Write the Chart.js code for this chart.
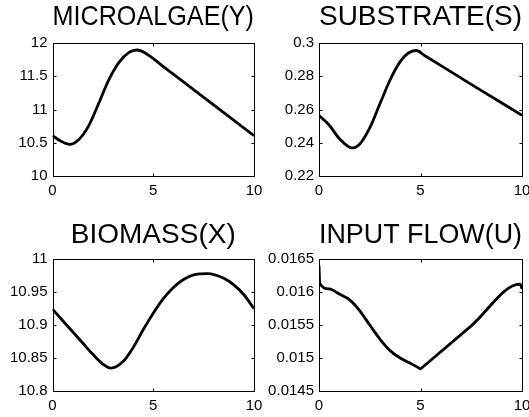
<!DOCTYPE html>
<html>
<head>
<meta charset="utf-8">
<title>Bioreactor states</title>
<script src="https://cdn.jsdelivr.net/npm/chart.js@4.4.1/dist/chart.umd.min.js"></script>
<style>
    html, body { margin: 0; padding: 0; background: #fff; }
    #wrap { position: relative; width: 529px; height: 417px; overflow: hidden; }
    canvas { position: absolute; }
</style>
</head>
<body>
<div id="wrap">
    <canvas id="algaeChart" width="270" height="208" style="left:0;top:0;width:270px;height:208px"></canvas>
    <canvas id="substrateChart" width="271" height="208" style="left:258px;top:0;width:271px;height:208px"></canvas>
    <canvas id="biomassChart" width="270" height="209" style="left:0;top:208px;width:270px;height:209px"></canvas>
    <canvas id="flowChart" width="271" height="209" style="left:258px;top:208px;width:271px;height:209px"></canvas>
</div>
<script>
// values (time 0..10)
const algaeTime = [0, 0.4, 0.85, 1.3, 1.8, 2.3, 2.8, 3.3, 3.8, 4.2, 4.6, 5.5, 7, 8.5, 10];
const algaeValues = [10.61, 10.53, 10.48, 10.55, 10.76, 11.10, 11.45, 11.71, 11.86, 11.895, 11.85, 11.645, 11.30, 10.955, 10.61];

const substrateTime = [0, 0.5, 1, 1.65, 2, 2.5, 3, 3.5, 4, 4.4, 4.8, 5.2, 7.5, 10];
const substrateValues = [0.2565, 0.2508, 0.2427, 0.2370, 0.2392, 0.2490, 0.2635, 0.2778, 0.2888, 0.2940, 0.2955, 0.2925, 0.2752, 0.2566];

const biomassTime = [0, 0.5, 1, 1.5, 2, 2.5, 2.9, 3.5, 4, 4.5, 5, 5.5, 6, 6.5, 7, 7.7, 8.5, 9, 9.5, 10];
const biomassValues = [10.924, 10.907, 10.890, 10.873, 10.856, 10.841, 10.835, 10.845, 10.866, 10.893, 10.918, 10.940, 10.957, 10.969, 10.976, 10.978, 10.971, 10.961, 10.946, 10.925];

const flowTime = [0, 0.04, 0.5, 1, 1.5, 2, 2.5, 3, 3.5, 4, 4.5, 4.9, 5, 5.1, 7.5, 9.9, 10];
const flowValues = [0.01640, 0.01613, 0.016047, 0.015971, 0.015885, 0.01572, 0.015502, 0.01529, 0.015115, 0.015004, 0.014923, 0.014856, 0.014838, 0.014864, 0.01549, 0.01612, 0.01605];

const timeTicks = [0, 5, 10];
const timeTickLabels = ['0', '5', '10'];

const algaeTicks = [10, 10.5, 11, 11.5, 12];
const algaeTickLabels = ['10', '10.5', '11', '11.5', '12'];
const substrateTicks = [0.22, 0.24, 0.26, 0.28, 0.3];
const substrateTickLabels = ['0.22', '0.24', '0.26', '0.28', '0.3'];
const biomassTicks = [10.8, 10.85, 10.9, 10.95, 11];
const biomassTickLabels = ['10.8', '10.85', '10.9', '10.95', '11'];
const flowTicks = [0.0145, 0.015, 0.0155, 0.016, 0.0165];
const flowTickLabels = ['0.0145', '0.015', '0.0155', '0.016', '0.0165'];

const FONT = "'Liberation Sans', Arial, Helvetica, sans-serif";
const TICK_LEN = 3;

// matlab style: full box with inward ticks on every side
const boxPlugin = {
    id: 'matlabBox',
    afterDatasetsDraw(chart) {
        const { ctx, chartArea: a, scales } = chart;
        const l = Math.round(a.left) + 0.5, r = Math.round(a.right) + 0.5;
        const t = Math.round(a.top) + 0.5, b = Math.round(a.bottom) + 0.5;
        ctx.save();
        ctx.strokeStyle = '#000';
        ctx.lineWidth = 1;
        ctx.strokeRect(l, t, r - l, b - t);
        ctx.beginPath();
        scales.x.ticks.forEach(tick => {
            const px = Math.round(scales.x.getPixelForValue(tick.value)) + 0.5;
            ctx.moveTo(px, b); ctx.lineTo(px, b - TICK_LEN);
            ctx.moveTo(px, t); ctx.lineTo(px, t + TICK_LEN);
        });
        scales.y.ticks.forEach(tick => {
            const py = Math.round(scales.y.getPixelForValue(tick.value)) + 0.5;
            ctx.moveTo(l, py); ctx.lineTo(l + TICK_LEN, py);
            ctx.moveTo(r, py); ctx.lineTo(r - TICK_LEN, py);
        });
        ctx.stroke();
        ctx.restore();
    }
};

function makeChart(id, title, time, values, yTicks, yLabels, box) {
    const ctx = document.getElementById(id).getContext('2d');
    return new Chart(ctx, {
        type: 'line',
        data: {
            datasets: [{
                data: time.map((t, i) => ({ x: t, y: values[i] })),
                borderColor: '#000',
                borderWidth: 2.8,
                pointRadius: 0,
                fill: false,
                cubicInterpolationMode: 'monotone'
            }]
        },
        options: {
            responsive: false,
            animation: false,
            devicePixelRatio: 1,
            layout: { padding: { left: 0, right: box.padRight, top: 0, bottom: 0 } },
            plugins: {
                legend: { display: false },
                tooltip: { enabled: false },
                title: {
                    display: true,
                    text: title,
                    color: '#000',
                    fullSize: false,
                    font: { family: FONT, size: 28, weight: 'normal', lineHeight: 1 },
                    padding: { top: box.titleTop, bottom: box.titleBottom }
                }
            },
            scales: {
                x: {
                    type: 'linear',
                    min: timeTicks[0],
                    max: timeTicks[timeTicks.length - 1],
                    grid: { display: false, drawTicks: false },
                    border: { display: false },
                    afterBuildTicks: axis => { axis.ticks = timeTicks.map(v => ({ value: v })); },
                    afterFit: scale => {
                        scale.height = box.xHeight;
                        scale.paddingLeft = 0;
                        scale.paddingRight = 0;
                    },
                    ticks: {
                        color: '#000',
                        font: { family: FONT, size: 15 },
                        padding: 6,
                        maxRotation: 0,
                        autoSkip: false,
                        callback: (v, i) => timeTickLabels[i]
                    }
                },
                y: {
                    type: 'linear',
                    min: yTicks[0],
                    max: yTicks[yTicks.length - 1],
                    grid: { display: false, drawTicks: false },
                    border: { display: false },
                    afterBuildTicks: axis => { axis.ticks = yTicks.map(v => ({ value: v })); },
                    afterFit: scale => {
                        scale.width = box.yWidth;
                        scale.paddingTop = 0;
                        scale.paddingBottom = 0;
                    },
                    ticks: {
                        color: '#000',
                        font: { family: FONT, size: 15 },
                        padding: 5,
                        autoSkip: false,
                        callback: (v, i) => yLabels[i]
                    }
                }
            }
        },
        plugins: [boxPlugin]
    });
}

const topLeft = { yWidth: 52.5, padRight: 16, titleTop: 3, titleBottom: 12, xHeight: 31.7 };
const topRight = { yWidth: 61, padRight: 7, titleTop: 3, titleBottom: 12, xHeight: 31.7 };
const bottomLeft = { yWidth: 52.5, padRight: 16, titleTop: 13, titleBottom: 10, xHeight: 25.7 };
const bottomRight = { yWidth: 61, padRight: 7, titleTop: 13, titleBottom: 10, xHeight: 25.7 };

makeChart('algaeChart', 'MICROALGAE(Y)', algaeTime, algaeValues, algaeTicks, algaeTickLabels, topLeft);
makeChart('substrateChart', 'SUBSTRATE(S)', substrateTime, substrateValues, substrateTicks, substrateTickLabels, topRight);
makeChart('biomassChart', 'BIOMASS(X)', biomassTime, biomassValues, biomassTicks, biomassTickLabels, bottomLeft);
makeChart('flowChart', 'INPUT FLOW(U)', flowTime, flowValues, flowTicks, flowTickLabels, bottomRight);
</script>
</body>
</html>
